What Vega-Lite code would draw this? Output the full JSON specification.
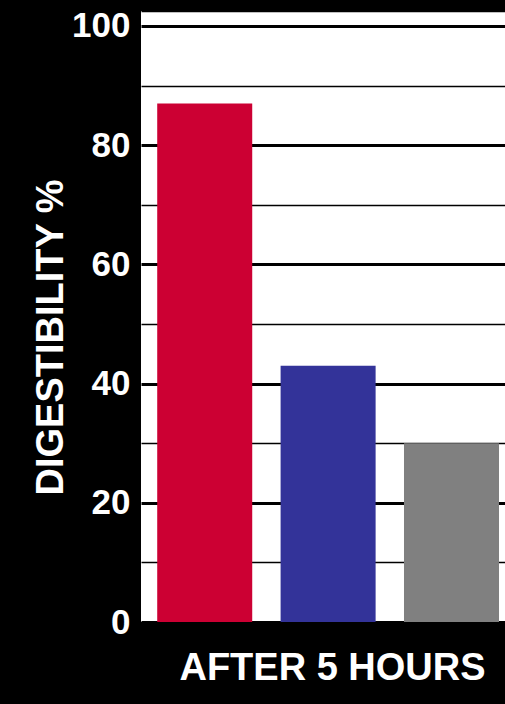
{
  "$schema": "https://vega.github.io/schema/vega-lite/v6.json",
  "width": 364,
  "height": 611,
  "autosize": {"type": "none"},
  "padding": {"left": 141, "top": 11, "right": 0, "bottom": 82},
  "background": "black",
  "view": {"fill": "white", "stroke": null},
  "data": {
    "values": [
      {"item": "Product A", "digestibility": 87},
      {"item": "Product B", "digestibility": 43},
      {"item": "Product C", "digestibility": 30}
    ]
  },
  "mark": {"type": "bar"},
  "encoding": {
    "x": {
      "field": "item",
      "type": "nominal",
      "sort": null,
      "scale": {"paddingInner": 0.23, "paddingOuter": 0.09, "align": 0.73},
      "axis": {
        "title": "AFTER 5 HOURS",
        "labels": false,
        "ticks": false,
        "domain": false,
        "grid": false,
        "titleColor": "white",
        "titleFont": "Liberation Sans",
        "titleFontWeight": "bold",
        "titleFontSize": 38,
        "titleX": 191,
        "titleY": 57,
        "titleBaseline": "alphabetic",
        "titleAlign": "center"
      }
    },
    "y": {
      "field": "digestibility",
      "type": "quantitative",
      "scale": {"domain": [0, 102.5], "nice": false, "zero": true},
      "axis": {
        "title": "DIGESTIBILITY %",
        "values": [0, 10, 20, 30, 40, 50, 60, 70, 80, 90, 100, 102.5],
        "grid": true,
        "gridColor": "black",
        "gridOpacity": 1,
        "gridWidth": {"condition": {"test": "datum.value % 20 === 0", "value": 3}, "value": 1.5},
        "labelExpr": "datum.value % 20 === 0 ? datum.label : ''",
        "ticks": false,
        "tickSize": 0,
        "domain": false,
        "labelPadding": 11,
        "labelColor": "white",
        "labelFont": "Liberation Sans",
        "labelFontWeight": "bold",
        "labelFontSize": 35,
        "labelBaseline": "middle",
        "titleColor": "white",
        "titleFont": "Liberation Sans",
        "titleFontWeight": "bold",
        "titleFontSize": 38,
        "titleAngle": -90,
        "titleX": -79,
        "titleY": 326,
        "titleBaseline": "alphabetic",
        "titleAlign": "center"
      }
    },
    "color": {
      "field": "item",
      "type": "nominal",
      "sort": null,
      "scale": {"range": ["#CC0033", "#333399", "#808080"]},
      "legend": null
    }
  }
}
